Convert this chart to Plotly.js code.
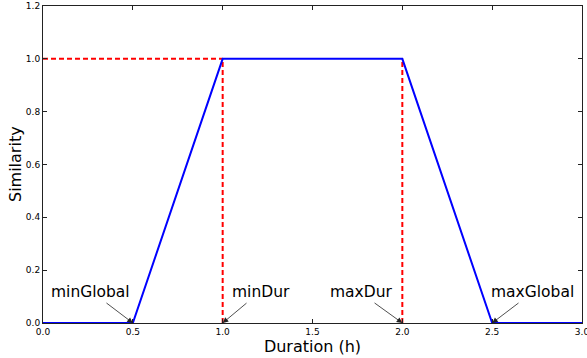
<!DOCTYPE html>
<html>
<head>
<meta charset="utf-8">
<script src="https://cdn.plot.ly/plotly-3.0.1.min.js"></script>
<style>html,body{margin:0;padding:0;background:#fff;}#chart{width:587px;height:358px;}</style>
</head>
<body>
<div id="chart"></div>
<script>
// Similarity curve (trapezoid)
const durationX = [0.0, 0.5, 1.0, 2.0, 2.5, 3.0];
const similarityY = [0.0, 0.0, 1.0, 1.0, 0.0, 0.0];

// Red dashed guide lines
const guideHX = [0.0, 1.0];
const guideHY = [1.0, 1.0];
const guideV1X = [1.0, 1.0];
const guideV1Y = [0.0, 1.0];
const guideV2X = [2.0, 2.0];
const guideV2Y = [0.0, 1.0];

// Annotations
const annLabels = ["minGlobal", "minDur", "maxDur", "maxGlobal"];
const annPointX = [0.5, 1.0, 2.0, 2.5];
const annPointY = [0.0, 0.0, 0.0, 0.0];
const annTextX = [0.035, 1.04, 1.585, 2.485];
const annTextY = [0.117, 0.117, 0.117, 0.117];
const annTailX = [0.345, 1.141, 1.837, 2.655];
const annTailY = [0.08, 0.08, 0.08, 0.08];

const xTicks = [0.0, 0.5, 1.0, 1.5, 2.0, 2.5, 3.0];
const yTicks = [0.0, 0.2, 0.4, 0.6, 0.8, 1.0, 1.2];

const xTitle = 'Duration (h)';
const yTitle = 'Similarity';

const dashStyle = {color: '#ff0000', width: 2, dash: '5px,3px'};
const traces = [
  {x: guideHX, y: guideHY, mode: 'lines', line: dashStyle, hoverinfo: 'skip'},
  {x: guideV1X, y: guideV1Y, mode: 'lines', line: dashStyle, hoverinfo: 'skip'},
  {x: guideV2X, y: guideV2Y, mode: 'lines', line: dashStyle, hoverinfo: 'skip'},
  {x: durationX, y: similarityY, mode: 'lines', line: {color: '#0000ff', width: 2}}
];

const annotations = [];
for (let i = 0; i < annLabels.length; i++) {
  annotations.push({
    x: annTextX[i], y: annTextY[i], xref: 'x', yref: 'y',
    text: annLabels[i], showarrow: false, xanchor: 'left', yanchor: 'middle',
    font: {family: 'DejaVu Sans', size: 15.5, color: '#000'}
  });
  annotations.push({
    x: annPointX[i], y: annPointY[i], xref: 'x', yref: 'y',
    ax: annTailX[i], ay: annTailY[i], axref: 'x', ayref: 'y',
    text: '', showarrow: true, arrowhead: 2, arrowsize: 1.4, arrowwidth: 0.8,
    arrowcolor: '#222', standoff: 0, startstandoff: 0
  });
}
// y-axis title placed as a rotated annotation for exact position
annotations.push({
  x: -0.051, y: 0.5, xref: 'paper', yref: 'paper',
  text: yTitle, showarrow: false, textangle: -90,
  xanchor: 'center', yanchor: 'middle',
  font: {family: 'DejaVu Sans', size: 16, color: '#000'}
});

const axisCommon = {
  showgrid: false, zeroline: false, showline: true, linecolor: '#222', linewidth: 1,
  mirror: 'ticks', ticks: 'inside', ticklen: 4, tickcolor: '#222', tickwidth: 1,
  tickfont: {family: 'DejaVu Sans', size: 9, color: '#000'}, tickformat: '.1f',
  ticklabeloverflow: 'allow'
};

const layout = {
  width: 587, height: 358,
  margin: {l: 43, r: 5, t: 6, b: 35, pad: 0},
  paper_bgcolor: '#fff', plot_bgcolor: '#fff',
  showlegend: false,
  xaxis: Object.assign({}, axisCommon, {
    range: [0, 3], tickvals: xTicks,
    title: {text: xTitle, font: {family: 'DejaVu Sans', size: 16, color: '#000'}, standoff: 4}
  }),
  yaxis: Object.assign({}, axisCommon, {
    range: [0, 1.2], tickvals: yTicks
  }),
  annotations: annotations
};

Plotly.newPlot('chart', traces, layout, {displayModeBar: false, staticPlot: true});
</script>
</body>
</html>
